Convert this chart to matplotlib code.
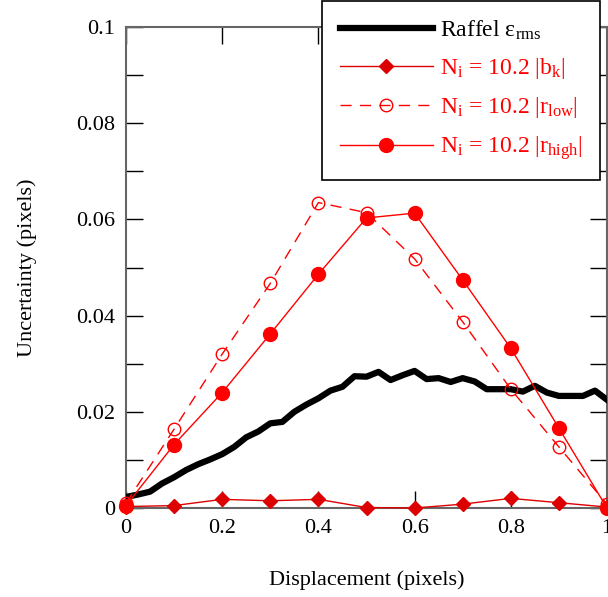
import matplotlib
matplotlib.use("Agg")
import matplotlib.pyplot as plt
import numpy as np

plt.rcParams["font.family"] = ["Liberation Serif", "DejaVu Serif"]
plt.rcParams["mathtext.fontset"] = "custom"
plt.rcParams["mathtext.rm"] = "Liberation Serif"
plt.rcParams["mathtext.it"] = "Liberation Serif:italic"

# Raffel rms error (black curve)
raffel_x = np.arange(0, 41) * 0.025
raffel_y = [0.0023, 0.0028, 0.0034, 0.0051, 0.0064, 0.0079, 0.0091, 0.0101, 0.0112, 0.0127,
            0.0147, 0.0159, 0.0176, 0.0179, 0.0200, 0.0215, 0.0228, 0.0244, 0.0252, 0.0274,
            0.0273, 0.0283, 0.0266, 0.0276, 0.0285, 0.0268, 0.0270, 0.0262, 0.0270, 0.0263,
            0.0247, 0.0247, 0.0247, 0.0242, 0.0254, 0.0240, 0.0233, 0.0233, 0.0233, 0.0244,
            0.0225]

# N_i = 10.2 series
disp = np.arange(0, 11) * 0.1
bk = [0.0003, 0.0005, 0.0018, 0.0015, 0.0018, 0.0001, 0.0000, 0.0008, 0.0020, 0.0011, 0.0002]
r_low = [0.0010, 0.0164, 0.0320, 0.0467, 0.0635, 0.0614, 0.0518, 0.0387, 0.0247, 0.0127, 0.0008]
r_high = [0.0005, 0.0132, 0.0240, 0.0362, 0.0486, 0.0603, 0.0613, 0.0474, 0.0332, 0.0166, 0.0000]

fig = plt.figure(figsize=(6.08, 5.97), dpi=100)
ax = fig.add_axes([126 / 608, 1 - 508 / 597, 481 / 608, 481 / 597])

ax.plot(raffel_x, raffel_y, color="black", lw=4.5, label=r"Raffel ε$_{\mathrm{rms}}$", zorder=3)
ax.plot(disp, bk, color="#dd0000", lw=1, marker="D", ms=7, clip_on=False,
        label=r"N$_{\mathrm{i}}$ = 10.2 |b$_{\mathrm{k}}$|", zorder=4)
ax.plot(disp, r_low, color="red", lw=1, ls=(0, (8, 6)), marker="o", ms=9, mfc="none",
        mec="red", mew=1, clip_on=False,
        label=r"N$_{\mathrm{i}}$ = 10.2 |r$_{\mathrm{low}}$|", zorder=4)
ax.plot(disp, r_high, color="red", lw=1, marker="o", ms=10, clip_on=False,
        label=r"N$_{\mathrm{i}}$ = 10.2 |r$_{\mathrm{high}}$|", zorder=5)

ax.set_xlim(0, 1)
ax.set_ylim(0, 0.1)
ax.set_xticks(np.arange(0, 1.01, 0.2))
ax.set_xticklabels(["0", "0.2", "0.4", "0.6", "0.8", "1"])
ax.set_yticks(np.arange(0, 0.101, 0.02))
ax.set_yticklabels(["0", "0.02", "0.04", "0.06", "0.08", "0.1"])
ax.set_yticks(np.arange(0, 0.101, 0.01), minor=True)
ax.tick_params(which="both", direction="in", top=True, right=True, labelsize=16,
               length=12, width=1, pad=8)
for s in ax.spines.values():
    s.set_color("#666666")
    s.set_linewidth(1.5)

ax.set_xlabel("Displacement (pixels)", fontsize=16, labelpad=23)
ax.set_ylabel("Uncertainty (pixels)", fontsize=16, labelpad=28)

leg = fig.legend(loc="upper left", bbox_to_anchor=(322 / 608, 1 - 1 / 597), fontsize=17,
                 handlelength=3.95, labelspacing=0.6, handletextpad=0.3,
                 borderpad=0.75, borderaxespad=0, fancybox=False, framealpha=1,
                 edgecolor="black")
leg.get_frame().set_linewidth(1.2)
for t, c in zip(leg.get_texts(), ["black", "red", "red", "red"]):
    t.set_color(c)

fig.savefig("out.png", dpi=100)
